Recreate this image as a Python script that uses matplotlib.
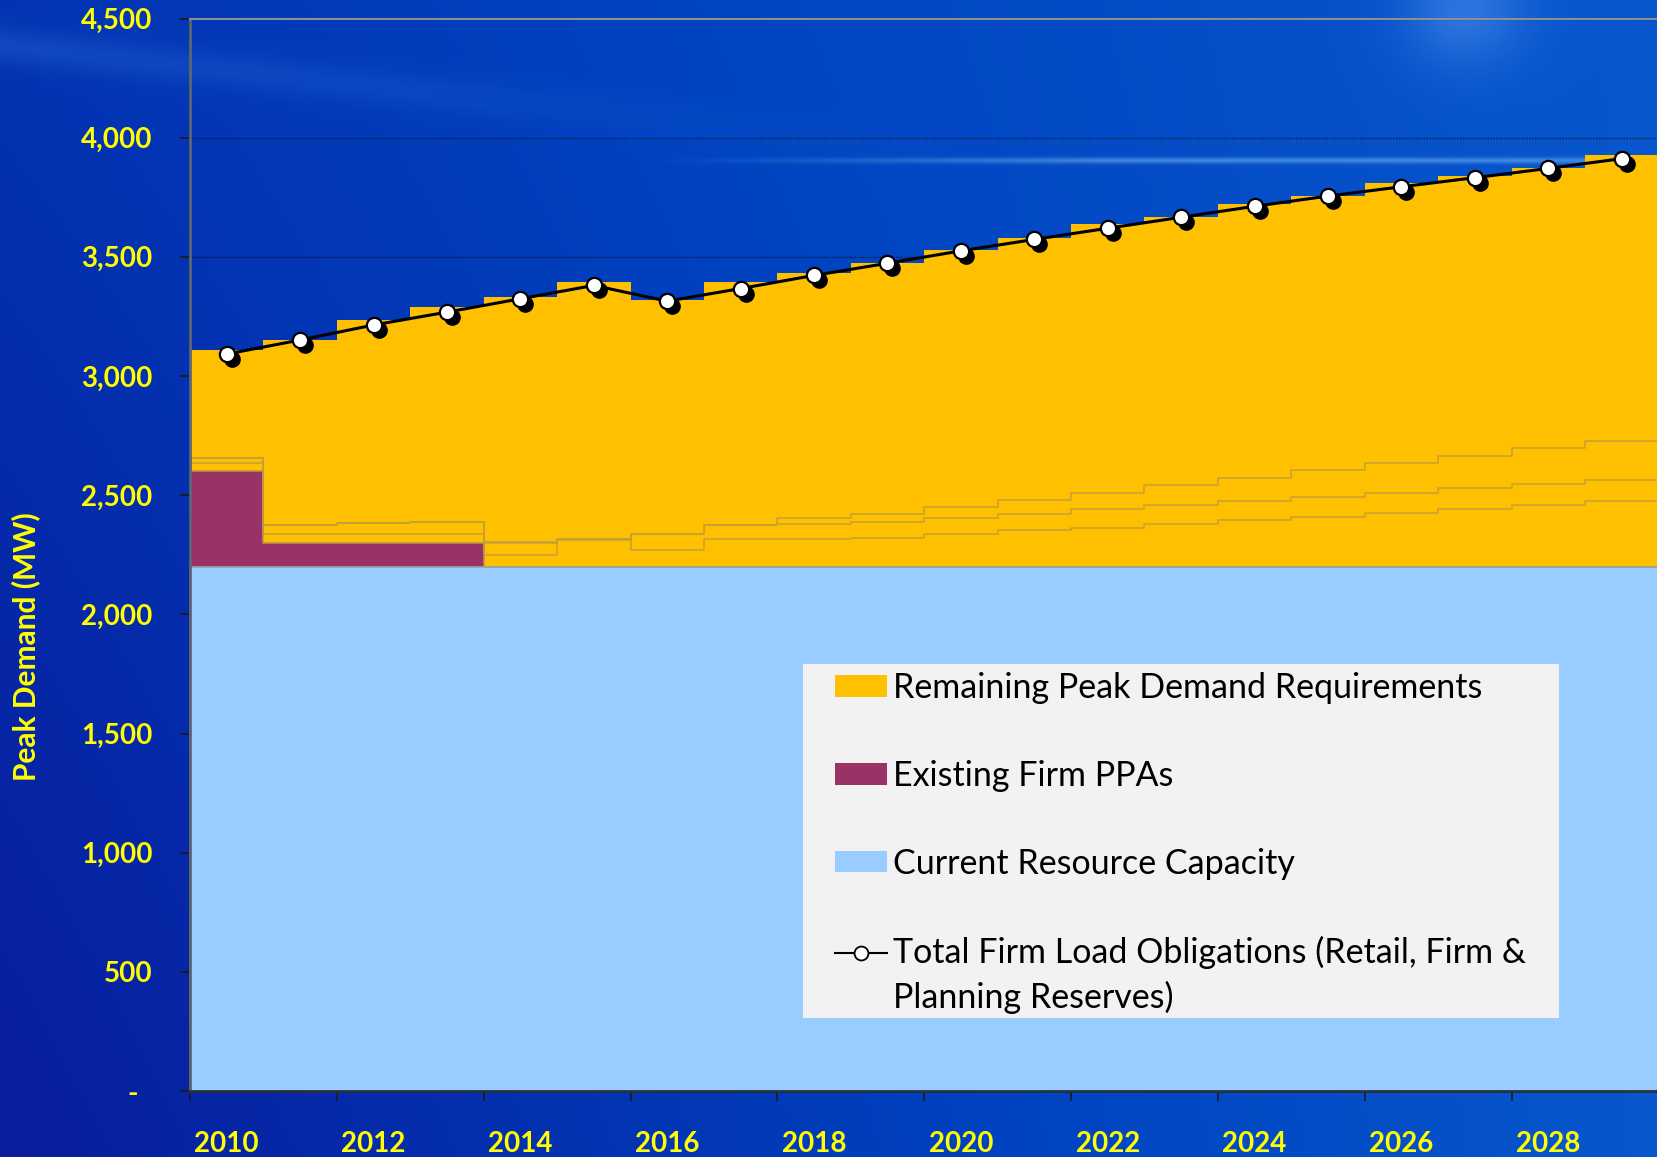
import numpy as np
import matplotlib
matplotlib.use("Agg")
import matplotlib.pyplot as plt
import matplotlib.transforms as mtransforms
from matplotlib.patches import Patch, Rectangle
from matplotlib.lines import Line2D
from matplotlib.legend_handler import HandlerLine2D

# ---------------- data (MW) ----------------
years = list(range(2010, 2030))
current_capacity = [2200] * 20
existing_ppas = [400, 100, 100, 100] + [0] * 16
tier1 = [33, 35, 39, 39, 47, 111, 72, 114, 118, 122, 139, 152, 164, 181, 194, 210, 225, 240, 257, 274]
tier2 = [25, 38, 43, 50, 54, 7, 67, 59, 63, 64, 67, 71, 76, 76, 80, 81, 82, 88, 88, 88]
tier3 = [0, 0, 0, 0, 4, 0, 0, 0, 25, 37, 46, 55, 71, 84, 96, 113, 126, 136, 151, 164]
total_requirement = [3109, 3151, 3235, 3290, 3331, 3395, 3317, 3394, 3433, 3473,
                     3527, 3581, 3636, 3669, 3723, 3754, 3810, 3840, 3873, 3929]
firm_load = [3092, 3151, 3214, 3268, 3324, 3380, 3314, 3367, 3422, 3473,
             3525, 3573, 3620, 3666, 3712, 3755, 3794, 3832, 3871, 3912]
y_ticks = [0, 500, 1000, 1500, 2000, 2500, 3000, 3500, 4000, 4500]
y_ticklabels = ["-  ", "500", "1,000", "1,500", "2,000", "2,500", "3,000", "3,500", "4,000", "4,500"]
x_label_years = list(range(2010, 2030, 2))

C_YELLOW = "#FFC000"
C_PPA = "#993366"
C_CAP = "#99CCFF"
C_TXT = "#FFFF00"
EDGE = "#C4A03A"

W, H, DPI = 1657, 1157, 100
fig = plt.figure(figsize=(W / DPI, H / DPI), dpi=DPI)

# ---------------- background gradient ----------------
bg = fig.add_axes([0, 0, 1, 1], zorder=-10)
yy, xx = np.mgrid[0:H, 0:W].astype(float)
xn, yn = xx / W, yy / H
t = np.clip(0.30 + 0.55 * xn - 0.32 * yn * (1 - xn), 0, 1)[..., None]
dark = np.array([8, 30, 158]) / 255
mid = np.array([0, 66, 192]) / 255
light = np.array([12, 96, 212]) / 255
img = np.where(t < 0.5, dark + (mid - dark) * (t / 0.5), mid + (light - mid) * ((t - 0.5) / 0.5))
# soft streaks / glow
streak = np.exp(-((yy - 160) / 3.0) ** 2) * np.clip((xx - 650) / 450, 0, 1)
img = img + (np.array([110, 175, 240]) / 255 - img) * (0.55 * streak)[..., None]
band = np.exp(-((yy - (45 + 0.11 * xx)) / 18.0) ** 2) * np.clip(1 - xx / 1000, 0, 1)
img = img + (np.array([40, 110, 220]) / 255 - img) * (0.35 * band)[..., None]
glow = np.exp(-(((xx - 1465) / 60.0) ** 2 + ((yy - 10) / 55.0) ** 2))
img = img + (np.array([70, 140, 235]) / 255 - img) * (0.6 * glow)[..., None]
bg.imshow(np.clip(img, 0, 1), extent=[0, 1, 0, 1], aspect="auto", interpolation="bilinear")
bg.set_axis_off()

# ---------------- main axes ----------------
ax = fig.add_axes([190 / W, 1 - 1091 / H, 1468.4 / W, (1091 - 18.5) / H])
ax.patch.set_alpha(0)

x_edges = np.arange(years[0], years[-1] + 2)
ext = lambda a: np.append(np.asarray(a, float), a[-1])

cap = np.asarray(current_capacity, float)
ppa_top = cap + np.asarray(existing_ppas, float)
l1 = ppa_top + np.asarray(tier1, float)
l2 = l1 + np.asarray(tier2, float)
l3 = l2 + np.asarray(tier3, float)
remaining = np.asarray(total_requirement, float) - l3
top = l3 + remaining

ax.fill_between(x_edges, 0, ext(cap), step="post", color=C_CAP, lw=0, zorder=1)
ax.fill_between(x_edges, ext(cap), ext(ppa_top), step="post", color=C_PPA, lw=0, zorder=1)
ax.fill_between(x_edges, ext(ppa_top), ext(top), step="post", color=C_YELLOW, lw=0, zorder=1)
for lvl in (l1, l2, l3):
    ax.step(x_edges, ext(lvl), where="post", color=EDGE, lw=1.1, zorder=1.5)
ax.step(x_edges, ext(ppa_top), where="post", color="#B8964A", lw=1.1, zorder=1.6)
ax.step(x_edges, ext(cap), where="post", color="#9AA4A8", lw=1.2, zorder=1.6)

xc = np.asarray(years) + 0.5
shadow_tr = ax.transData + mtransforms.ScaledTranslation(5 / DPI, -5 / DPI, fig.dpi_scale_trans)
ax.plot(xc, firm_load, "o", color="black", ms=11, transform=shadow_tr, zorder=3)
ax.plot(xc, firm_load, color="black", lw=2.2, marker="o", ms=11, mfc="white",
        mec="black", mew=1.6, zorder=4)

ax.set_xlim(2010, 2030)
ax.set_ylim(0, 4500)

ax.set_yticks(y_ticks)
ax.set_yticklabels(y_ticklabels)
ax.set_xticks(np.arange(2010, 2030, 2))
ax.set_xticklabels([])
ax.set_xticks(np.asarray(x_label_years) + 0.5, minor=True)
ax.set_xticklabels([str(y) for y in x_label_years], minor=True)

for lab in ax.get_yticklabels() + ax.get_xticklabels(minor=True):
    lab.set_fontfamily("Lato")
    lab.set_fontweight("bold")
    lab.set_fontsize(20)
    lab.set_color(C_TXT)
ax.tick_params(axis="both", which="major", direction="out", length=7, width=1.2, color="#1a1a1a")
ax.tick_params(axis="y", which="major", pad=20)
ax.tick_params(axis="x", which="minor", length=0, pad=29)

ax.set_axisbelow(True)
ax.yaxis.grid(True, linestyle=(0, (1, 1)), color="#0d1a44", lw=1.0)
ax.xaxis.grid(False)

ax.spines["left"].set_color("#5f6670")
ax.spines["left"].set_linewidth(2)
ax.spines["bottom"].set_color("#2a2f3a")
ax.spines["bottom"].set_linewidth(2)
ax.spines["top"].set_color("#8c8f96")
ax.spines["top"].set_linewidth(1.5)
ax.spines["right"].set_visible(False)

ax.set_ylabel("Peak Demand (MW)", color=C_TXT, fontfamily="Lato", fontweight="bold", fontsize=21.5)
ax.yaxis.set_label_coords(-0.102, 0.414)

# ---------------- legend ----------------
ax.add_patch(Rectangle((0.4175, 0.0681), 0.9323 - 0.4175, 0.3981 - 0.0681, transform=ax.transAxes,
                       facecolor="#F2F2F2", edgecolor="none", zorder=4.5, clip_on=False))


class ShiftedLine(HandlerLine2D):
    def __init__(self, dy, **kw):
        super().__init__(**kw)
        self.dy = dy

    def create_artists(self, legend, orig_handle, xdescent, ydescent, width, height, fontsize, trans):
        trans = mtransforms.Affine2D().translate(0, self.dy) + trans
        return super().create_artists(legend, orig_handle, xdescent, ydescent, width, height, fontsize, trans)


line_handle = Line2D([], [], color="black", lw=1.5, marker="o", ms=10, mfc="white", mec="black", mew=1.3)
handles = [Patch(facecolor=C_YELLOW), Patch(facecolor=C_PPA), Patch(facecolor=C_CAP), line_handle]
labels = ["Remaining Peak Demand Requirements", "Existing Firm PPAs", "Current Resource Capacity",
          "Total Firm Load Obligations (Retail, Firm &\nPlanning Reserves)"]
leg = ax.legend(handles, labels, loc="upper left", bbox_to_anchor=(0.4393, 0.3905),
                bbox_transform=ax.transAxes, frameon=False, borderpad=0, borderaxespad=0,
                prop=dict(family="Lato", size=24.5), handlelength=1.53, handleheight=0.59,
                handletextpad=0.18, labelspacing=1.64,
                handler_map={line_handle: ShiftedLine(17)})
leg.set_zorder(5)
for txt in leg.get_texts():
    txt.set_color("black")
    txt.set_linespacing(1.45)

fig.savefig("out.png", dpi=DPI)
